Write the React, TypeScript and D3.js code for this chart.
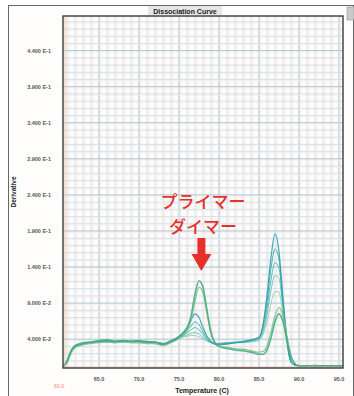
import React from "react";
import * as d3 from "d3";

// temperatures (C) at which every curve was read
const temps = [
  60.6, 61, 61.5, 62, 63, 64, 65, 66, 67, 68, 69, 70, 71, 72, 73, 74, 75,
  76, 76.5, 77, 77.5, 78, 78.5, 79, 79.5, 80,
  81, 82, 83, 84, 85,
  85.5, 86, 86.5, 87, 87.5, 88, 88.5, 89, 89.5, 90,
  91, 92, 93, 94, 95, 95.4,
];

// wells with a strong primer-dimer peak
const wellA1 = [
  0.003, 0.009, 0.024, 0.031, 0.035, 0.036, 0.038, 0.039, 0.037, 0.038, 0.037, 0.037, 0.036, 0.036, 0.033, 0.037, 0.043,
  0.055, 0.072, 0.102, 0.121, 0.112, 0.08, 0.05, 0.035, 0.03,
  0.027, 0.025, 0.024, 0.022, 0.019,
  0.019, 0.025, 0.042, 0.064, 0.075, 0.064, 0.039, 0.015, 0.006, 0.003,
  0.003, 0.002, 0.003, 0.003, 0.003, 0.003,
];
const wellA2 = [
  0.002, 0.007, 0.02, 0.028, 0.032, 0.034, 0.035, 0.036, 0.035, 0.036, 0.035, 0.035, 0.034, 0.034, 0.031, 0.035, 0.041,
  0.051, 0.066, 0.093, 0.112, 0.104, 0.075, 0.047, 0.034, 0.03,
  0.029, 0.027, 0.026, 0.024, 0.022,
  0.023, 0.03, 0.05, 0.072, 0.084, 0.072, 0.044, 0.017, 0.006, 0.003,
  0.003, 0.003, 0.002, 0.003, 0.003, 0.003,
];
// wells with the product peak
const wellB1 = [
  0.004, 0.01, 0.023, 0.03, 0.034, 0.035, 0.037, 0.038, 0.037, 0.038, 0.037, 0.038, 0.037, 0.036, 0.034, 0.038, 0.044,
  0.056, 0.066, 0.075, 0.07, 0.056, 0.044, 0.037, 0.033, 0.032,
  0.033, 0.035, 0.036, 0.039, 0.042,
  0.06, 0.101, 0.153, 0.186, 0.161, 0.097, 0.039, 0.008, 0.004, 0.003,
  0.003, 0.003, 0.003, 0.003, 0.003, 0.003,
];
const wellB2 = [
  0.003, 0.008, 0.021, 0.029, 0.033, 0.034, 0.036, 0.036, 0.035, 0.037, 0.036, 0.036, 0.035, 0.034, 0.032, 0.036, 0.041,
  0.052, 0.058, 0.064, 0.06, 0.05, 0.041, 0.036, 0.033, 0.033,
  0.034, 0.035, 0.037, 0.039, 0.043,
  0.058, 0.092, 0.138, 0.165, 0.15, 0.092, 0.04, 0.009, 0.004, 0.003,
  0.003, 0.004, 0.003, 0.003, 0.003, 0.003,
];
const wellB3 = [
  0.003, 0.009, 0.023, 0.03, 0.034, 0.036, 0.036, 0.037, 0.036, 0.036, 0.037, 0.037, 0.036, 0.035, 0.033, 0.037, 0.042,
  0.049, 0.053, 0.056, 0.053, 0.046, 0.04, 0.036, 0.034, 0.034,
  0.035, 0.036, 0.037, 0.038, 0.042,
  0.054, 0.083, 0.122, 0.146, 0.138, 0.088, 0.038, 0.009, 0.004, 0.003,
  0.003, 0.003, 0.003, 0.002, 0.003, 0.003,
];
const wellB4 = [
  0.002, 0.008, 0.022, 0.029, 0.033, 0.035, 0.036, 0.037, 0.036, 0.037, 0.036, 0.036, 0.035, 0.035, 0.033, 0.036, 0.041,
  0.046, 0.048, 0.049, 0.047, 0.042, 0.038, 0.035, 0.034, 0.034,
  0.035, 0.035, 0.036, 0.037, 0.04,
  0.05, 0.074, 0.108, 0.128, 0.124, 0.082, 0.036, 0.009, 0.004, 0.003,
  0.003, 0.003, 0.003, 0.003, 0.003, 0.003,
];
const wellB5 = [
  0.003, 0.009, 0.022, 0.03, 0.034, 0.035, 0.037, 0.038, 0.037, 0.037, 0.037, 0.037, 0.036, 0.035, 0.034, 0.037, 0.042,
  0.044, 0.045, 0.045, 0.043, 0.04, 0.037, 0.035, 0.034, 0.034,
  0.034, 0.035, 0.035, 0.036, 0.038,
  0.046, 0.064, 0.09, 0.106, 0.105, 0.072, 0.032, 0.008, 0.004, 0.003,
  0.003, 0.003, 0.003, 0.003, 0.003, 0.003,
];

const yTickValues = [0.04, 0.09, 0.14, 0.19, 0.24, 0.29, 0.34, 0.39, 0.44];
const yTickLabels = [
  "4.000 E-2", "9.000 E-2", "1.400 E-1", "1.900 E-1", "2.400 E-1",
  "2.900 E-1", "3.400 E-1", "3.900 E-1", "4.400 E-1",
];
const xTickValues = [65, 70, 75, 80, 85, 90, 95];
const xTickLabels = ["65.0", "70.0", "75.0", "80.0", "85.0", "90.0", "95.0"];

const wells = [
  { key: "B5", values: wellB5, color: "#8fcca8", w: 1 },
  { key: "B4", values: wellB4, color: "#66bfb6", w: 1 },
  { key: "B3", values: wellB3, color: "#4db3b0", w: 1 },
  { key: "B2", values: wellB2, color: "#35a8ab", w: 1 },
  { key: "B1", values: wellB1, color: "#279fae", w: 1.2 },
  { key: "A2", values: wellA2, color: "#86c28a", w: 1.3 },
  { key: "A1", values: wellA1, color: "#47ab84", w: 1.6 },
];

const plot = { left: 63, top: 16, right: 343, bottom: 368 };
const font = "Arial, 'Liberation Sans', sans-serif";

const App = () => {
  const x = d3.scaleLinear().domain([60.5, 95.5]).range([plot.left, plot.right]);
  const y = d3.scaleLinear().domain([0, 0.488]).range([plot.bottom, plot.top]);

  const line = d3
    .line<number>()
    .x((_, i) => x(temps[i]))
    .y((d) => y(d))
    .curve(d3.curveMonotoneX);

  const minorX = d3.range(61, 96, 1);
  const minorY = d3.range(1, 49).map((i) => i / 100);
  const arrowX = x(77.8);

  return (
    <svg width={354} height={396} style={{ display: "block" }}>
      <style>{`body{margin:0}`}</style>
      <rect x={0} y={0} width={354} height={396} fill="#ffffff" />
      {/* outer window frame */}
      <rect x={8.5} y={5.5} width={345} height={395} fill="#fffdfb" stroke="#666" strokeWidth={1} />
      <rect x={347} y={7} width={7} height={13} fill="#c9c9c9" stroke="#999" strokeWidth={0.6} />
      <rect x={148} y={6} width={74} height={9} fill="#e6e6e6" />
      <text x={185} y={13.5} textAnchor="middle" fontFamily={font} fontSize={7} fontWeight="bold" fill="#222">
        Dissociation Curve
      </text>

      {/* plot background and grid */}
      <rect x={plot.left} y={plot.top} width={plot.right - plot.left} height={plot.bottom - plot.top} fill="#fdfcfb" />
      {minorX.map((t) => (
        <g key={"vx" + t}>
          <line x1={x(t) + 1.5} x2={x(t) + 1.5} y1={plot.top} y2={plot.bottom} stroke="#fbe9e3" strokeWidth={0.8} />
          <line
            x1={x(t)}
            x2={x(t)}
            y1={plot.top}
            y2={plot.bottom}
            stroke={t % 5 === 0 ? "#a9c4d6" : "#c9dce8"}
            strokeWidth={t % 5 === 0 ? 1 : 0.8}
          />
        </g>
      ))}
      {minorY.map((v, i) => (
        <g key={"hy" + i}>
          <line x1={plot.left} x2={plot.right} y1={y(v) + 1.3} y2={y(v) + 1.3} stroke="#fbe9e3" strokeWidth={0.7} />
          <line
            x1={plot.left}
            x2={plot.right}
            y1={y(v)}
            y2={y(v)}
            stroke={(i + 1) % 5 === 4 ? "#a9c4d6" : "#c9dce8"}
            strokeWidth={(i + 1) % 5 === 4 ? 1 : 0.8}
          />
        </g>
      ))}

      {/* curves */}
      <g fill="none" strokeLinejoin="round">
        {wells.map((wl) => (
          <path key={wl.key} d={line(wl.values) || ""} stroke={wl.color} strokeWidth={wl.w} opacity={0.9} />
        ))}
      </g>

      {/* plot frame */}
      <line x1={plot.left + 2} x2={plot.left + 2} y1={plot.top} y2={plot.bottom} stroke="#f0b89a" strokeWidth={0.8} />
      <line x1={plot.left} x2={plot.right} y1={plot.bottom - 1} y2={plot.bottom - 1} stroke="#eeb49c" strokeWidth={0.8} />
      <rect
        x={plot.left}
        y={plot.top}
        width={plot.right - plot.left}
        height={plot.bottom - plot.top}
        fill="none"
        stroke="#3a3a3a"
        strokeWidth={1.4}
      />

      {/* y axis */}
      {yTickValues.map((v, i) => (
        <text key={"yt" + v} x={51} y={y(v) + 2} textAnchor="end" fontFamily={font} fontSize={5.5} fontWeight="bold" fill="#555">
          {yTickLabels[i]}
        </text>
      ))}
      <text
        transform={`translate(16,${192}) rotate(-90)`}
        textAnchor="middle"
        fontFamily={font}
        fontSize={6.5}
        fontWeight="bold"
        fill="#222"
      >
        Derivative
      </text>

      {/* x axis */}
      {xTickValues.map((t, i) => (
        <text key={"xt" + t} x={x(t)} y={381} textAnchor="middle" fontFamily={font} fontSize={5.5} fontWeight="bold" fill="#555">
          {xTickLabels[i]}
        </text>
      ))}
      <text x={x(60)} y={388} textAnchor="middle" fontFamily={font} fontSize={5.5} fill="#f08a70">
        60.0
      </text>
      <text x={202} y={393} textAnchor="middle" fontFamily={font} fontSize={7} fontWeight="bold" fill="#222">
        Temperature (C)
      </text>

      {/* annotation */}
      <g fill="#e8302a" fontFamily="'Noto Sans CJK JP', sans-serif" fontSize={17} fontWeight={500} textAnchor="middle">
        <text x={203} y={208}>プライマー</text>
        <text x={203} y={233}>ダイマー</text>
      </g>
      <path
        d={`M${arrowX - 4},238 L${arrowX + 4},238 L${arrowX + 4},254 L${arrowX + 10},254 L${arrowX},271 L${arrowX - 10},254 L${arrowX - 4},254 Z`}
        fill="#e8302a"
      />
    </svg>
  );
};

export default App;
